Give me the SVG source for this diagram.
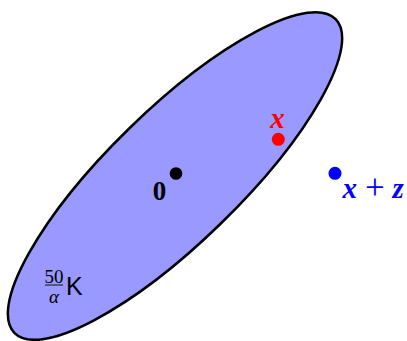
<svg xmlns="http://www.w3.org/2000/svg" width="407" height="341" viewBox="0 0 407 341">
<style>
.serif{font-family:"Liberation Serif","DejaVu Serif",serif}
.mathbi{font-family:"Liberation Serif","DejaVu Serif",serif;font-style:italic;font-weight:bold}
.dot{stroke:none}
</style>
<rect width="407" height="341" fill="#ffffff"/>
<g id="set-K">
<ellipse cx="175" cy="176" rx="224.5" ry="66" transform="rotate(-44.3 175 176)" fill="#9999ff" stroke="#000000" stroke-width="2.5"/>
<text class="serif" x="54" y="283" font-size="19" text-anchor="middle">50</text>
<line x1="45" y1="285" x2="63" y2="285" stroke="#000000" stroke-width="0.9"/>
<text class="serif" x="54" y="303" font-size="19" font-style="italic" text-anchor="middle">α</text>
<text x="66" y="295" font-family="Liberation Sans, DejaVu Sans, sans-serif" font-size="25">K</text>
</g>
<g id="origin">
<circle class="dot" cx="176" cy="173.5" r="6.3" fill="#000000"/>
<text class="serif" x="159.4" y="200" font-size="27" font-weight="bold" text-anchor="middle">0</text>
</g>
<g id="point-x">
<circle class="dot" cx="278.3" cy="139.3" r="6.5" fill="#ff0000"/>
<text class="mathbi" x="277.5" y="127.7" font-size="29" fill="#ff0000" text-anchor="middle">x</text>
</g>
<g id="point-xz">
<circle class="dot" cx="335" cy="173.3" r="6.5" fill="#0000ff"/>
<text fill="#0000ff"><tspan class="mathbi" font-size="29" x="342.5" y="197.7">x</tspan><tspan class="serif" font-size="35" x="365" y="199.3">+</tspan><tspan class="mathbi" font-size="29" x="392.5" y="197.7">z</tspan></text>
</g>
<g id="connectors"></g>
</svg>
